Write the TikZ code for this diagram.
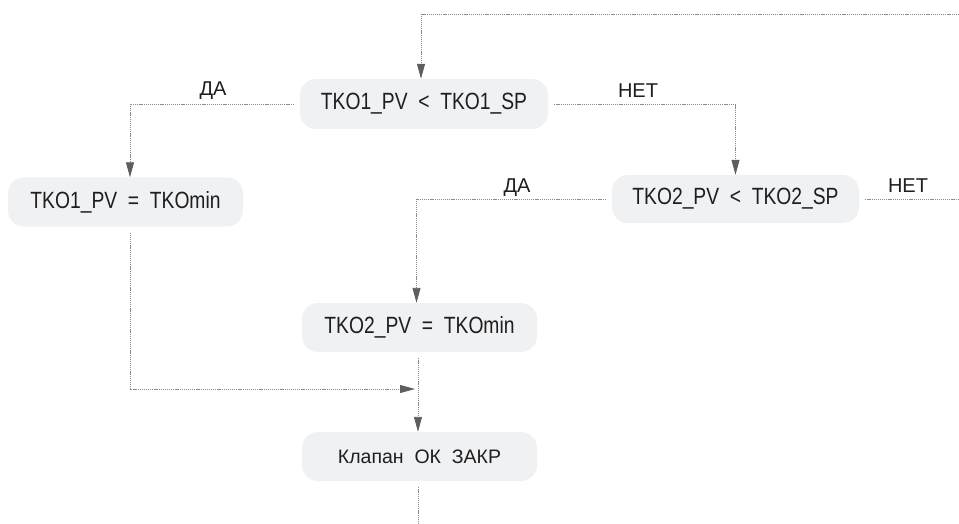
\documentclass[tikz,border=0pt]{standalone}
\usepackage{fontspec}
\setmainfont{Liberation Sans}
\newfontfamily\narrowf[FakeStretch=0.82]{Liberation Sans}
\usetikzlibrary{arrows.meta}
\definecolor{boxgray}{HTML}{F0F1F3}
\definecolor{linegray}{HTML}{8C8C8C}
\definecolor{tipgray}{HTML}{5E5E5E}
\definecolor{txt}{HTML}{1E1E1E}
\begin{document}
\begin{tikzpicture}[x=1pt,y=-1pt,
  box/.style={rectangle, rounded corners=16pt, fill=boxgray, draw=none, inner sep=0pt,
    minimum width=235pt, minimum height=49pt, text=txt, font=\fontsize{19.5}{23}\selectfont},
  cond/.style={font=\narrowf\fontsize{23.5}{27}\selectfont},
  conn/.style={draw=linegray, line width=0.9pt, dash pattern=on 1.2pt off 0.9pt},
  arr/.style={conn, -{Triangle[length=15pt,width=8pt,fill=tipgray,color=tipgray]}},
  lbl/.style={text=txt, font=\fontsize{20}{24}\selectfont, inner sep=0pt}]
\useasboundingbox (0,0) rectangle (959,524);

\node[box, cond, minimum width=248pt, minimum height=50pt] (n1) at (424,104) {TKO1\_PV\ \ <\ \ TKO1\_SP};
\node[box, cond] (n3) at (125.5,202) {TKO1\_PV\ \ =\ \ TKOmin};
\node[box, cond, minimum width=247pt, minimum height=48pt] (n2) at (735.5,199) {TKO2\_PV\ \ <\ \ TKO2\_SP};
\node[box, cond] (n4) at (419.5,327.5) {TKO2\_PV\ \ =\ \ TKOmin};
\node[box] (n5) at (419.5,456.5) {Клапан\ \ ОК\ \ ЗАКР};

\coordinate (topR) at (959,14);
\coordinate (rightEnd) at (959,199);
\coordinate (merge) at (415,389);
\coordinate (bottomEnd) at (418,524);

\draw[arr] (topR) -| ([xshift=-3pt]n1.north);
\draw[arr, shorten <=6pt] (n1.west) -| ([xshift=4.5pt]n3.north);
\draw[arr, shorten <=6pt] (n1.east) -| (n2.north);
\draw[arr, shorten <=6pt] (n2.west) -| ([xshift=-3pt]n4.north);
\draw[conn, shorten <=6pt] (n2.east) -- (rightEnd);
\draw[arr, shorten <=6pt] ([xshift=4.5pt]n3.south) |- (merge);
\draw[arr, shorten <=6pt] ([xshift=-1.5pt]n4.south) -- ([xshift=-1.5pt]n5.north);
\draw[conn, shorten <=6pt] ([xshift=-1.5pt]n5.south) -- (bottomEnd);

\node[lbl] (l1) at (213,91) {ДА};
\node[lbl] (l2) at (638,91) {НЕТ};
\node[lbl] (l3) at (517,188) {ДА};
\node[lbl] (l4) at (908,186) {НЕТ};
\end{tikzpicture}
\end{document}
